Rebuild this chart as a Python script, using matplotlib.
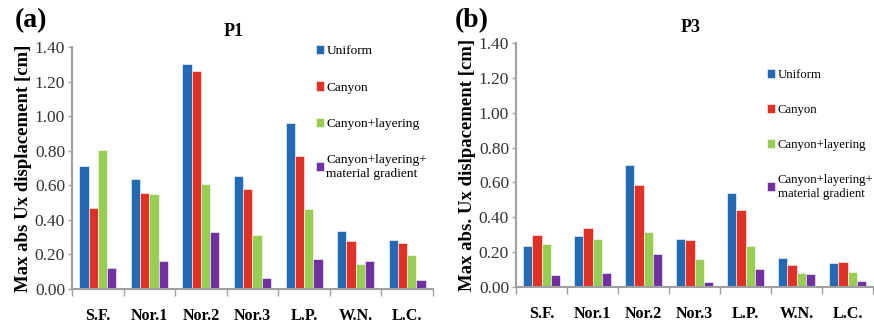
import matplotlib.pyplot as plt
import numpy as np

sites = ['S.F.', 'Nor.1', 'Nor.2', 'Nor.3', 'L.P.', 'W.N.', 'L.C.']
series = ['Uniform', 'Canyon', 'Canyon+layering', 'Canyon+layering+\nmaterial gradient']
colors = ['#2369b3', '#e03127', '#96cd52', '#7030a0']

# P1 values (cm)
p1_uniform = [0.71, 0.635, 1.30, 0.655, 0.962, 0.336, 0.285]
p1_canyon = [0.467, 0.554, 1.263, 0.579, 0.769, 0.279, 0.265]
p1_layer = [0.805, 0.548, 0.606, 0.310, 0.462, 0.146, 0.196]
p1_grad = [0.122, 0.160, 0.329, 0.065, 0.173, 0.160, 0.052]

# P3 values (cm)
p3_uniform = [0.233, 0.291, 0.698, 0.273, 0.537, 0.164, 0.136]
p3_canyon = [0.296, 0.337, 0.583, 0.268, 0.440, 0.124, 0.142]
p3_layer = [0.245, 0.275, 0.314, 0.159, 0.233, 0.078, 0.084]
p3_grad = [0.067, 0.078, 0.187, 0.027, 0.101, 0.073, 0.033]

serif = 'Liberation Serif'
plt.rcParams['font.family'] = serif
grey = '#a0a0a0'

fig = plt.figure(figsize=(8.74, 3.26), dpi=100)
ax1 = fig.add_axes([0.0824, 0.1135, 0.413, 0.7425])
ax2 = fig.add_axes([0.5904, 0.1196, 0.4085, 0.7485])

def draw(ax, data, title, ylabel, title_x, leg_anchor, leg_size):
    x = np.arange(len(sites)) + 0.5
    w = 0.18
    for k, vals in enumerate(data):
        ax.bar(x + (k - 1.5) * w, vals, w, color=colors[k], edgecolor='white',
               linewidth=0.4, label=series[k])
    ax.set_xlim(0, len(sites))
    ax.set_ylim(0, 1.4)
    ax.set_yticks(np.arange(0, 1.41, 0.2))
    ax.set_yticklabels(['%.2f' % v for v in np.arange(0, 1.41, 0.2)],
                       family=serif)
    ax.set_xticks(np.arange(len(sites) + 1))
    ax.set_xticklabels([])
    ax.set_xticks(x, minor=True)
    ax.set_xticklabels(sites, minor=True, fontweight='bold', fontsize=11.5,
                       family=serif)
    ax.tick_params(axis='x', which='minor', length=0, pad=14)
    ax.tick_params(axis='x', which='major', length=5, color=grey, width=1)
    ax.tick_params(axis='y', length=3, color=grey, width=1, labelsize=12.5,
                   labelcolor='#333333', pad=2)
    for s in ['top', 'right']:
        ax.spines[s].set_visible(False)
    for s in ['left', 'bottom']:
        ax.spines[s].set_color(grey)
        ax.spines[s].set_linewidth(1.5)
    ax.set_ylabel(ylabel, fontweight='bold', fontsize=13.5, labelpad=2,
                  family=serif)
    ax.set_title(title, fontweight='bold', fontsize=13, x=title_x, pad=8,
                 family=serif)
    ax.legend(loc='upper left', bbox_to_anchor=leg_anchor, frameon=False,
              prop={'family': serif, 'size': leg_size}, handlelength=0.6,
              handleheight=0.7, handletextpad=0.2, labelspacing=1.8,
              borderaxespad=0)

draw(ax1, [p1_uniform, p1_canyon, p1_layer, p1_grad], 'P1',
     'Max abs Ux displacement [cm]', 0.449, (0.66, 1.03), 9.6)
draw(ax2, [p3_uniform, p3_canyon, p3_layer, p3_grad], 'P3',
     'Max abs. Ux dislpacement [cm]', 0.49, (0.69, 0.915), 9.2)

fig.text(0.017, 0.917, '(a)', fontsize=20, fontweight='bold', family=serif)
fig.text(0.5206, 0.917, '(b)', fontsize=20, fontweight='bold', family=serif)

fig.savefig('out.png', dpi=100)
